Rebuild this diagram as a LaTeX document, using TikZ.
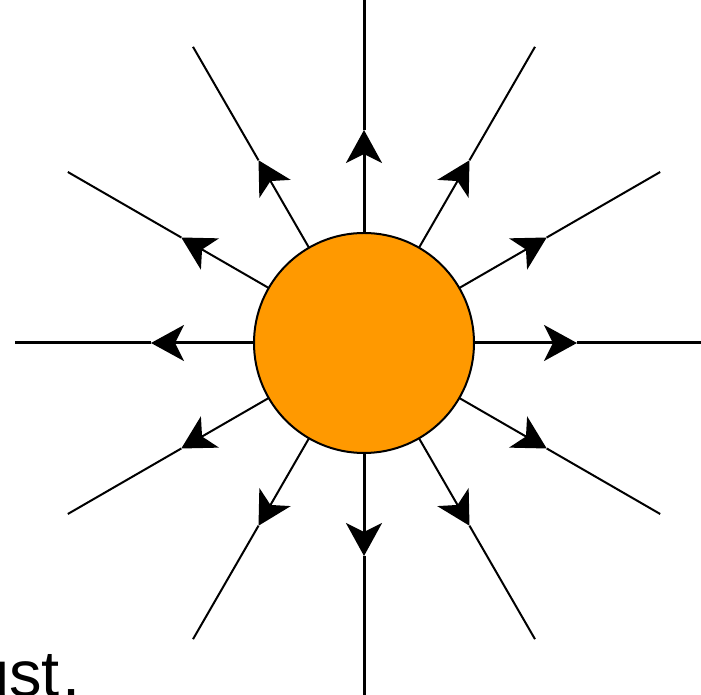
\documentclass[tikz,border=0pt]{standalone}
\usepackage{fontspec}
\setmainfont{Liberation Sans}
\usetikzlibrary{arrows.meta,calc}
\definecolor{sunorange}{RGB}{255,153,0}
\tikzset{
  x=1pt,y=1pt,
  field/.style={draw=black,line width=#1},
  fieldarrow/.style={field=#1,-{Stealth[length=33pt,width=36pt,inset=9pt]}},
  ball/.style={circle,draw=black,line width=2pt,fill=sunorange,minimum size=220pt,inner sep=0pt},
  caption/.style={font=\fontsize{65}{78}\selectfont,inner sep=0pt}
}
\begin{document}
\begin{tikzpicture}
\useasboundingbox (0,0) rectangle (701,695);
\coordinate (o) at (364,352);
% ends of the straight lines
\coordinate (e0) at (701,352);
\coordinate (e90) at (364,695);
\coordinate (e180) at (15,352);
\coordinate (e270) at (364,0);
\foreach \a in {0,90,180,270}{
  \coordinate (t\a) at ($(o)+(\a:213)$);
  \draw[fieldarrow=3pt] (o) -- (t\a);
  \draw[field=3pt] (t\a) -- (e\a);
}
\foreach \a in {30,60,120,150,210,240,300,330}{
  \coordinate (t\a) at ($(o)+(\a:211)$);
  \coordinate (e\a) at ($(o)+(\a:342)$);
  \draw[fieldarrow=2pt] (o) -- (t\a);
  \draw[field=2pt] (t\a) -- (e\a);
}
\node[ball] (sun) at (o) {};
\node[caption,anchor=base west] (txt) at (-27,-2) {ust\kern3pt.};
\end{tikzpicture}
\end{document}
